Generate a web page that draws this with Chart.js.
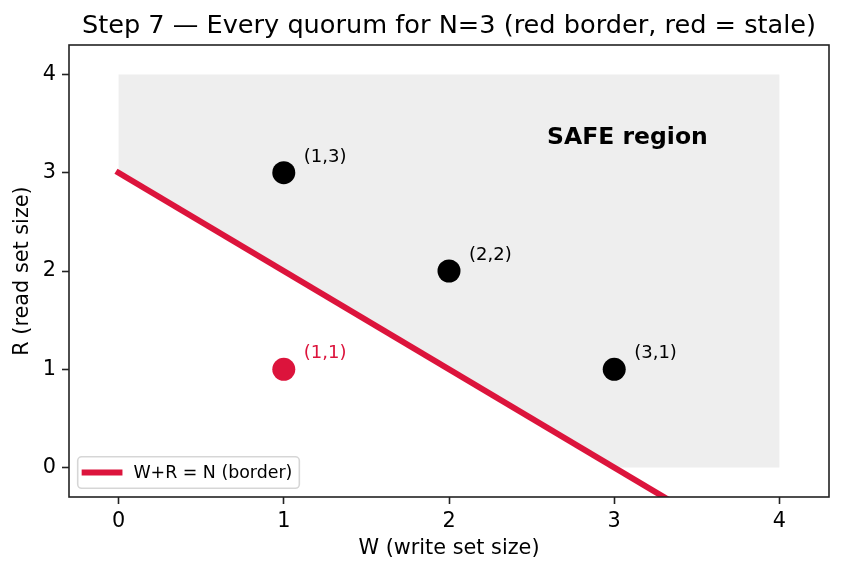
<!DOCTYPE html>
<html>
<head>
<meta charset="utf-8">
<script src="https://cdn.jsdelivr.net/npm/chart.js@4.4.0/dist/chart.umd.min.js"></script>
<style>
  body { margin: 0; background: #fff; }
  #wrap { width: 842px; height: 573px; }
</style>
</head>
<body>
<div id="wrap"><canvas id="c"></canvas></div>
<script>
// tick labels on both axes
const tickValues = [0, 1, 2, 3, 4];

// every quorum (W, R) for N=3
const quorumW = [1, 2, 3, 1];
const quorumR = [3, 2, 1, 1];
const quorumLabels = ['(1,3)', '(2,2)', '(3,1)', '(1,1)'];
const quorumStale = [false, false, false, true];

// the border W+R = N
const borderW = [0, 4];
const borderR = [3, -1];

// safe region outline
const safeW = [0, 0, 4, 4, 3];
const safeR = [3, 4, 4, 0, 0];

const TITLE = 'Step 7 — Every quorum for N=3 (red border, red = stale)';
const RED = '#dc143c';
const FONT = 'DejaVu Sans';

const zip = (xs, ys) => xs.map((x, i) => ({ x: x, y: ys[i] }));

// labels next to the points, plus the region caption
const annotate = {
  id: 'annotate',
  afterDatasetsDraw(chart) {
    const { ctx, scales: { x, y } } = chart;
    ctx.save();
    ctx.font = '18px "' + FONT + '"';
    ctx.textAlign = 'left';
    ctx.textBaseline = 'alphabetic';
    quorumLabels.forEach((lab, i) => {
      ctx.fillStyle = quorumStale[i] ? RED : '#000';
      ctx.fillText(lab, x.getPixelForValue(quorumW[i]) + 20, y.getPixelForValue(quorumR[i]) - 11);
    });
    ctx.font = 'bold 23.5px "' + FONT + '"';
    ctx.textAlign = 'center';
    ctx.textBaseline = 'middle';
    ctx.fillStyle = '#000';
    ctx.fillText('SAFE region', x.getPixelForValue(3.08), y.getPixelForValue(3.35));
    ctx.restore();
  }
};

// matplotlib style frame, title over the axes, legend box in the lower left
const frame = {
  id: 'frame',
  afterDraw(chart) {
    const { ctx, chartArea: a } = chart;
    ctx.save();
    ctx.strokeStyle = '#222';
    ctx.lineWidth = 1.6;
    ctx.strokeRect(a.left, a.top, a.right - a.left, a.bottom - a.top);

    ctx.fillStyle = '#000';
    ctx.font = '25.6px "' + FONT + '"';
    ctx.textAlign = 'center';
    ctx.textBaseline = 'alphabetic';
    ctx.fillText(TITLE, (a.left + a.right) / 2, 33);

    const ds = chart.data.datasets[1];
    const fs = 17.4;
    ctx.font = fs + 'px "' + FONT + '"';
    const tw = ctx.measureText(ds.label).width;
    const pad = 0.4 * fs, handle = 2 * fs, gap = 0.8 * fs;
    const bw = pad + handle + gap + tw + pad;
    const bh = 31.5;
    const bx = a.left + 8.7, by = a.bottom - 8.7 - bh;
    ctx.beginPath();
    ctx.roundRect(bx, by, bw, bh, 4);
    ctx.fillStyle = 'rgba(255,255,255,0.8)';
    ctx.fill();
    ctx.strokeStyle = 'rgba(204,204,204,0.8)';
    ctx.lineWidth = 1.6;
    ctx.stroke();
    const cy = by + bh / 2;
    ctx.beginPath();
    ctx.moveTo(bx + pad, cy);
    ctx.lineTo(bx + pad + handle, cy);
    ctx.strokeStyle = ds.borderColor;
    ctx.lineWidth = ds.borderWidth;
    ctx.lineCap = 'square';
    ctx.stroke();
    ctx.fillStyle = '#000';
    ctx.textAlign = 'left';
    ctx.textBaseline = 'middle';
    ctx.fillText(ds.label, bx + pad + handle + gap, cy + 1);
    ctx.restore();
  }
};

const axisCommon = {
  type: 'linear',
  min: -0.3,
  max: 4.3,
  afterBuildTicks: s => { s.ticks = tickValues.map(v => ({ value: v })); },
  grid: { display: true, drawOnChartArea: false, drawTicks: true, tickLength: 7, tickWidth: 1.6, tickColor: '#222' },
  border: { display: false },
};

new Chart(document.getElementById('c'), {
  type: 'line',
  data: {
    datasets: [
      {
        label: 'quorums',
        data: zip(quorumW, quorumR),
        showLine: false,
        pointRadius: 11.5,
        pointHoverRadius: 11.5,
        pointBorderWidth: 0,
        pointBackgroundColor: quorumStale.map(s => s ? RED : '#000'),
        pointBorderColor: quorumStale.map(s => s ? RED : '#000'),
        order: 0
      },
      {
        label: 'W+R = N (border)',
        data: zip(borderW, borderR),
        borderColor: RED,
        borderWidth: 6,
        borderCapStyle: 'square',
        pointRadius: 0,
        fill: false,
        clip: 0,
        order: 1
      },
      {
        label: 'safe',
        data: zip(safeW, safeR),
        borderWidth: 0,
        pointRadius: 0,
        backgroundColor: '#eeeeee',
        fill: 'shape',
        order: 2
      }
    ]
  },
  options: {
    responsive: true,
    maintainAspectRatio: false,
    animation: false,
    events: [],
    layout: { padding: { left: 0, right: 13, top: 45, bottom: 0 } },
    scales: {
      x: Object.assign({}, axisCommon, {
        position: 'bottom',
        afterFit: s => { s.height = 76; },
        ticks: { color: '#000', padding: 5, font: { family: FONT, size: 20.8 } },
        title: { display: true, text: 'W (write set size)', color: '#000', padding: { top: 0, bottom: 11.5 }, font: { family: FONT, size: 20.8 } }
      }),
      y: Object.assign({}, axisCommon, {
        position: 'left',
        afterFit: s => { s.width = 69; },
        ticks: { color: '#000', padding: 6, font: { family: FONT, size: 20.8 } },
        title: { display: true, text: 'R (read set size)', color: '#000', padding: { top: 10, bottom: 0 }, font: { family: FONT, size: 20.8 } }
      })
    },
    plugins: {
      legend: { display: false },
      tooltip: { enabled: false },
      title: { display: false }
    }
  },
  plugins: [annotate, frame]
});
</script>
</body>
</html>
